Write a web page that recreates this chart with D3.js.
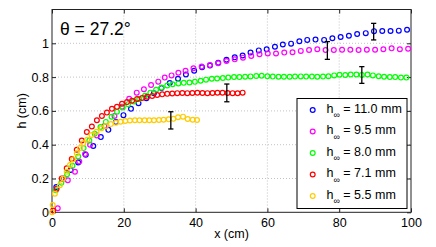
<!DOCTYPE html>
<html>
<head>
<meta charset="utf-8">
<script src="https://cdn.jsdelivr.net/npm/d3@7"></script>
<style>
  body { margin: 0; background: #fff; }
  text { font-family: "Liberation Sans", Arial, sans-serif; }
</style>
</head>
<body>
<div id="chart"></div>
<script>
// data (x in cm, h in cm)
var blueX = [1.2, 3.2, 5.2, 7.3, 9.4, 11.5, 13.6, 15.7, 17.8, 19.9, 22.0, 24.1, 26.3, 28.4, 30.5, 32.8, 35.1, 37.3, 39.6, 41.8, 44.0, 46.3, 48.6, 50.9, 53.1, 55.3, 57.6, 59.8, 62.1, 64.3, 66.6, 68.9, 71.1, 73.4, 75.8, 78.1, 80.4, 82.7, 85.0, 87.4, 89.7, 92.0, 94.3, 96.6, 98.9]
var blueY = [0.15, 0.20, 0.25, 0.295, 0.34, 0.392, 0.445, 0.488, 0.535, 0.575, 0.612, 0.645, 0.675, 0.705, 0.735, 0.765, 0.79, 0.815, 0.838, 0.858, 0.868, 0.885, 0.903, 0.917, 0.928, 0.946, 0.958, 0.965, 0.98, 0.993, 0.998, 1.012, 1.02, 1.022, 1.02, 1.03, 1.037, 1.045, 1.055, 1.06, 1.072, 1.073, 1.073, 1.075, 1.08]

var magX = [1.6, 4.4, 6.4, 7.6, 9.2, 10.6, 12.5, 14.6, 17.4, 19.5, 21.5, 23.6, 25.6, 27.6, 29.6, 31.4, 33.3, 35.2, 37.2, 39.4, 41.7, 44.0, 46.3, 48.6, 50.9, 53.2, 55.5, 57.8, 60.1, 62.4, 64.7, 67.0, 69.3, 71.6, 73.9, 76.2, 78.5, 80.8, 83.1, 85.4, 87.7, 90.0, 92.3, 94.6, 96.9, 99.2]
var magY = [0.024, 0.19, 0.24, 0.30, 0.345, 0.40, 0.455, 0.51, 0.57, 0.625, 0.672, 0.708, 0.728, 0.753, 0.773, 0.797, 0.81, 0.826, 0.838, 0.852, 0.862, 0.872, 0.882, 0.895, 0.905, 0.915, 0.925, 0.935, 0.94, 0.94, 0.945, 0.947, 0.955, 0.96, 0.965, 0.96, 0.96, 0.962, 0.962, 0.96, 0.962, 0.962, 0.965, 0.97, 0.965, 0.968]

var greenX = [1.1, 2.6, 4.2, 5.7, 7.3, 8.8, 10.4, 11.9, 13.5, 15.0, 16.6, 18.1, 19.7, 21.2, 22.8, 24.3, 25.9, 27.4, 29.0, 30.5, 32.1, 33.6, 35.2, 36.7, 38.3, 39.8, 41.4, 42.9, 44.5, 46.0, 47.6, 49.1, 50.7, 52.2, 53.8, 55.3, 56.9, 58.4, 60.0, 61.5, 63.1, 64.6, 66.2, 67.7, 69.3, 70.8, 72.4, 73.9, 75.5, 77.0, 78.6, 80.1, 81.7, 83.2, 84.8, 86.3, 87.9, 89.4, 91.0, 92.5, 94.1, 95.6, 97.2, 98.7]
var greenY = [0.13, 0.175, 0.225, 0.275, 0.33, 0.38, 0.425, 0.465, 0.505, 0.535, 0.565, 0.595, 0.62, 0.64, 0.655, 0.67, 0.69, 0.708, 0.725, 0.738, 0.75, 0.758, 0.762, 0.766, 0.768, 0.772, 0.778, 0.785, 0.79, 0.792, 0.795, 0.797, 0.8, 0.8, 0.802, 0.804, 0.806, 0.808, 0.805, 0.803, 0.802, 0.802, 0.802, 0.803, 0.804, 0.803, 0.803, 0.802, 0.803, 0.805, 0.81, 0.814, 0.812, 0.815, 0.815, 0.813, 0.815, 0.81, 0.805, 0.802, 0.8, 0.8, 0.797, 0.797]

var redX = [0.3, 1.3, 2.7, 4.1, 5.5, 6.9, 8.3, 9.7, 11.1, 12.5, 13.9, 15.3, 16.7, 18.1, 19.5, 20.9, 22.3, 23.7, 25.1, 26.5, 27.9, 29.3, 30.7, 32.1, 33.5, 34.9, 36.3, 37.7, 39.1, 40.5, 41.9, 43.3, 44.7, 46.1, 47.5, 48.9, 50.3, 51.7, 53.1]
var redY = [0.01, 0.14, 0.2, 0.26, 0.315, 0.37, 0.425, 0.475, 0.508, 0.545, 0.57, 0.59, 0.612, 0.624, 0.642, 0.652, 0.66, 0.67, 0.676, 0.684, 0.688, 0.694, 0.698, 0.701, 0.703, 0.705, 0.706, 0.705, 0.706, 0.707, 0.706, 0.705, 0.706, 0.707, 0.707, 0.706, 0.705, 0.704, 0.708]

var yellowX = [0.0, 0.2, 0.8, 2.2, 3.1, 4.1, 5.0, 5.9, 6.9, 7.8, 8.7, 9.8, 11.0, 12.4, 13.8, 15.0, 16.4, 17.8, 19.1, 20.4, 21.7, 23.1, 24.4, 25.8, 27.1, 28.4, 29.8, 31.1, 32.5, 33.8, 35.1, 36.5, 37.8, 39.2, 40.4]
var yellowY = [0.0, 0.043, 0.11, 0.16, 0.2, 0.24, 0.28, 0.313, 0.35, 0.38, 0.408, 0.43, 0.457, 0.477, 0.497, 0.51, 0.522, 0.53, 0.536, 0.54, 0.543, 0.545, 0.545, 0.545, 0.545, 0.545, 0.546, 0.548, 0.55, 0.553, 0.562, 0.566, 0.552, 0.548, 0.546]

var errX = [33.1, 48.7, 76.7, 86.3, 89.6]
var errLo = [0.493, 0.654, 0.905, 0.763, 1.02]
var errHi = [0.595, 0.759, 1.01, 0.862, 1.118]

var legendLabels = ["11.0", "9.5", "8.0", "7.1", "5.5"]
var colors = ["#0000ff", "#ff00ff", "#00ff00", "#ff0000", "#ffcc00"]
var xTicks = [0, 20, 40, 60, 80, 100]
var yTicks = [0, 0.2, 0.4, 0.6, 0.8, 1]

var series = [
  {x: blueX, y: blueY},
  {x: magX, y: magY},
  {x: greenX, y: greenY},
  {x: redX, y: redY},
  {x: yellowX, y: yellowY}
]

var W = 436, H = 247
var pl = 52, pr = 411, pt = 9.5, pb = 212.3

var svg = d3.select("#chart").append("svg")
  .attr("width", W).attr("height", H)

var x = d3.scaleLinear().domain([0, 100]).range([pl, pr])
var y = d3.scaleLinear().domain([0, 1.2]).range([pb, pt])

// dotted grid
svg.append("g").selectAll("line")
  .data(xTicks.slice(1, -1)).enter().append("line")
  .attr("x1", d => x(d)).attr("x2", d => x(d))
  .attr("y1", pt).attr("y2", pb)
  .attr("stroke", "#b4b4b4").attr("stroke-width", 0.8).attr("stroke-dasharray", "1,2")
svg.append("g").selectAll("line")
  .data(yTicks.slice(1)).enter().append("line")
  .attr("x1", pl).attr("x2", pr)
  .attr("y1", d => y(d)).attr("y2", d => y(d))
  .attr("stroke", "#b4b4b4").attr("stroke-width", 0.8).attr("stroke-dasharray", "1,2")

// axes, ticks inside like matlab
svg.append("g").attr("transform", "translate(0," + pb + ")")
  .call(d3.axisBottom(x).tickValues(xTicks).tickSize(-4).tickSizeOuter(0).tickPadding(5.5).tickFormat(d3.format("d")))
svg.append("g").attr("transform", "translate(0," + pt + ")")
  .call(d3.axisTop(x).tickValues(xTicks).tickSize(-4).tickSizeOuter(0).tickFormat(""))
svg.append("g").attr("transform", "translate(" + pl + ",0)")
  .call(d3.axisLeft(y).tickValues(yTicks).tickSize(-4).tickSizeOuter(0).tickPadding(3)
    .tickFormat(d => d == 0 || d == 1 ? d3.format("d")(d) : d3.format(".1f")(d)))
svg.append("g").attr("transform", "translate(" + pr + ",0)")
  .call(d3.axisRight(y).tickValues(yTicks).tickSize(-4).tickSizeOuter(0).tickFormat(""))

svg.selectAll(".domain").remove()
svg.selectAll(".tick line").attr("stroke", "#222")
svg.selectAll(".tick text").attr("font-size", 12.5).attr("fill", "#000")
  .style("font-family", "'Liberation Sans', Arial, sans-serif")

svg.append("rect")
  .attr("x", pl).attr("y", pt)
  .attr("width", pr - pl).attr("height", pb - pt)
  .attr("fill", "none").attr("stroke", "#222").attr("stroke-width", 1)

// markers
series.forEach(function(s, i) {
  svg.append("g").selectAll("circle")
    .data(s.x.map((v, j) => [v, s.y[j]])).enter().append("circle")
    .attr("cx", d => x(d[0])).attr("cy", d => y(d[1]))
    .attr("r", 2.4)
    .attr("fill", "none").attr("stroke", colors[i]).attr("stroke-width", 1.2)
})

// error bars
var eb = svg.append("g").attr("stroke", "#000").attr("stroke-width", 1.3)
errX.forEach(function(ex, i) {
  eb.append("line").attr("x1", x(ex)).attr("x2", x(ex)).attr("y1", y(errLo[i])).attr("y2", y(errHi[i]))
  eb.append("line").attr("x1", x(ex) - 2.6).attr("x2", x(ex) + 2.6).attr("y1", y(errLo[i])).attr("y2", y(errLo[i]))
  eb.append("line").attr("x1", x(ex) - 2.6).attr("x2", x(ex) + 2.6).attr("y1", y(errHi[i])).attr("y2", y(errHi[i]))
})

// title
svg.append("text").attr("x", 60).attr("y", 35)
  .attr("font-size", 17.5).text("θ = 27.2°")

// axis labels
svg.append("text").attr("x", (pl + pr) / 2).attr("y", 238)
  .attr("text-anchor", "middle").attr("font-size", 12.5).text("x (cm)")
svg.append("text")
  .attr("transform", "translate(26," + (pt + pb) / 2 + ") rotate(-90)")
  .attr("text-anchor", "middle").attr("font-size", 12.5).text("h (cm)")

// legend
var lg = svg.append("g")
lg.append("rect").attr("x", 297).attr("y", 98.5).attr("width", 110).attr("height", 110)
  .attr("fill", "#fff").attr("stroke", "#000").attr("stroke-width", 1)
legendLabels.forEach(function(lab, i) {
  var ry = 110 + i * 21.5
  lg.append("circle").attr("cx", 312.7).attr("cy", ry).attr("r", 2.4)
    .attr("fill", "none").attr("stroke", colors[i]).attr("stroke-width", 1.2)
  var t = lg.append("text").attr("x", 326.5).attr("y", ry + 2.7).attr("font-size", 12.5)
    .style("white-space", "pre")
  t.append("tspan").text("h")
  t.append("tspan").attr("font-size", 9).attr("dy", 5.5).text("∞")
  t.append("tspan").attr("dy", -5.5).text(" = " + lab + " mm")
})
</script>
</body>
</html>
